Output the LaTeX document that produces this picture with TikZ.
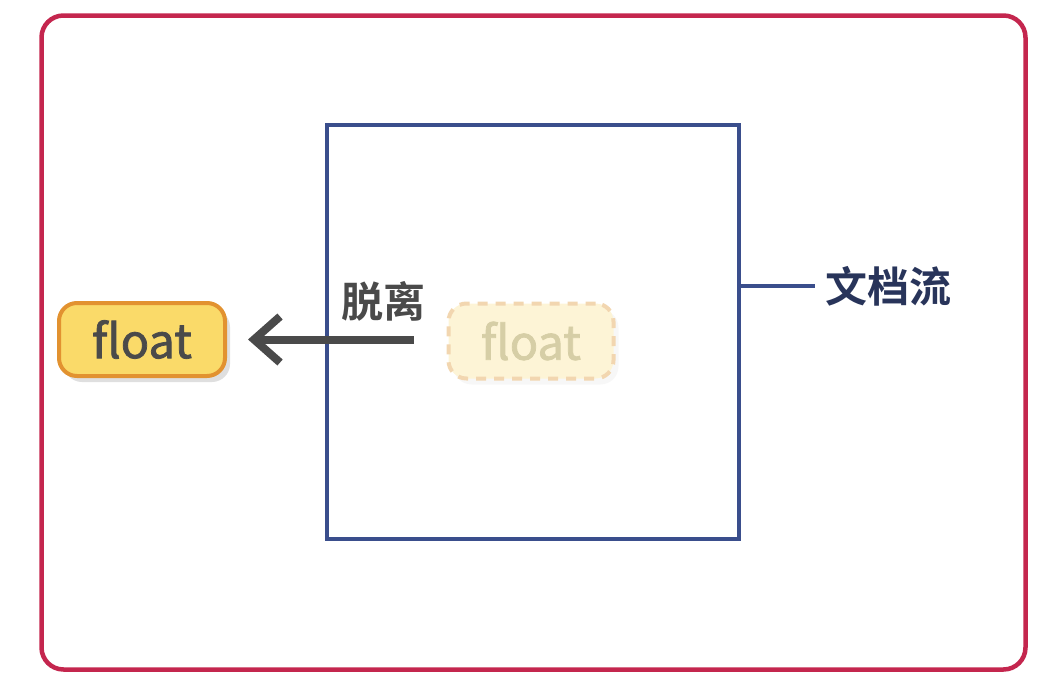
\documentclass[tikz,border=0pt]{standalone}
\usepackage{fontspec}
\setmainfont{Noto Sans CJK SC}[BoldFont={Noto Sans CJK SC Bold}]
\newfontfamily\floatfont{Noto Sans CJK SC}[BoldFont={Noto Sans CJK SC}, BoldFeatures={FakeBold=1.6}]
\usepackage{xcolor}
\usetikzlibrary{positioning, arrows.meta, shadows}

\definecolor{framered}{RGB}{196,38,78}
\definecolor{flownavy}{RGB}{58,78,140}
\definecolor{labelnavy}{RGB}{40,52,90}
\definecolor{floatfill}{RGB}{250,218,105}
\definecolor{floatline}{RGB}{226,146,48}
\definecolor{ghostfill}{RGB}{253,244,214}
\definecolor{ghostline}{RGB}{242,214,176}
\definecolor{ghosttext}{RGB}{214,206,166}
\definecolor{arrowgrey}{RGB}{74,74,74}

\begin{document}
\begin{tikzpicture}
        [x=1pt, y=-1pt,
            floatbox/.style={draw=floatline, fill=floatfill, line width=4pt, rounded corners=18pt,
                minimum width=166pt, minimum height=73pt, text=arrowgrey,
                font=\fontsize{47}{50}\floatfont\bfseries,
                drop shadow={shadow xshift=5pt, shadow yshift=-6pt, fill=black!25}},
            ghostbox/.style={draw=ghostline, fill=ghostfill, line width=4pt, dashed,
                dash pattern=on 10pt off 8pt, rounded corners=18pt,
                minimum width=165pt, minimum height=75pt, text=ghosttext,
                font=\fontsize{47}{50}\floatfont\bfseries,
                drop shadow={shadow xshift=5pt, shadow yshift=-6pt, fill=black!6}},
            cjk/.style={font=\fontsize{42}{46}\selectfont\bfseries}
        ]
        \useasboundingbox (0,0) rectangle (1053,699);
        % outer frame
        \node (page) [draw=framered, line width=4.5pt, rounded corners=22pt,
            minimum width=984pt, minimum height=654pt, inner sep=0pt] at (533.5,342.5) {};
        % document flow box
        \node (flow) [draw=flownavy, line width=4pt,
            minimum width=412pt, minimum height=414pt, inner sep=0pt] at (533,332) {};
        \node (doc) [cjk, text=labelnavy, anchor=west, inner sep=0pt] at (825,286) {文档流};
        \draw[flownavy, line width=4pt] (flow.east |- doc.west) -- ([xshift=-10pt]doc.west);
        % floats
        \node (ghost) [ghostbox] at (531,341) {float};
        \node (float) [floatbox] at (142,339.5) {float};
        \draw[arrowgrey, line width=8pt, -{Straight Barb[length=26pt, width=46pt, line width=8pt]},
            shorten <=33pt, shorten >=21pt] (ghost.west |- float.east) -- (float.east);
        \node (leave) [cjk, text=arrowgrey, inner sep=0pt] at (383,301) {脱离};
    \end{tikzpicture}
\end{document}
